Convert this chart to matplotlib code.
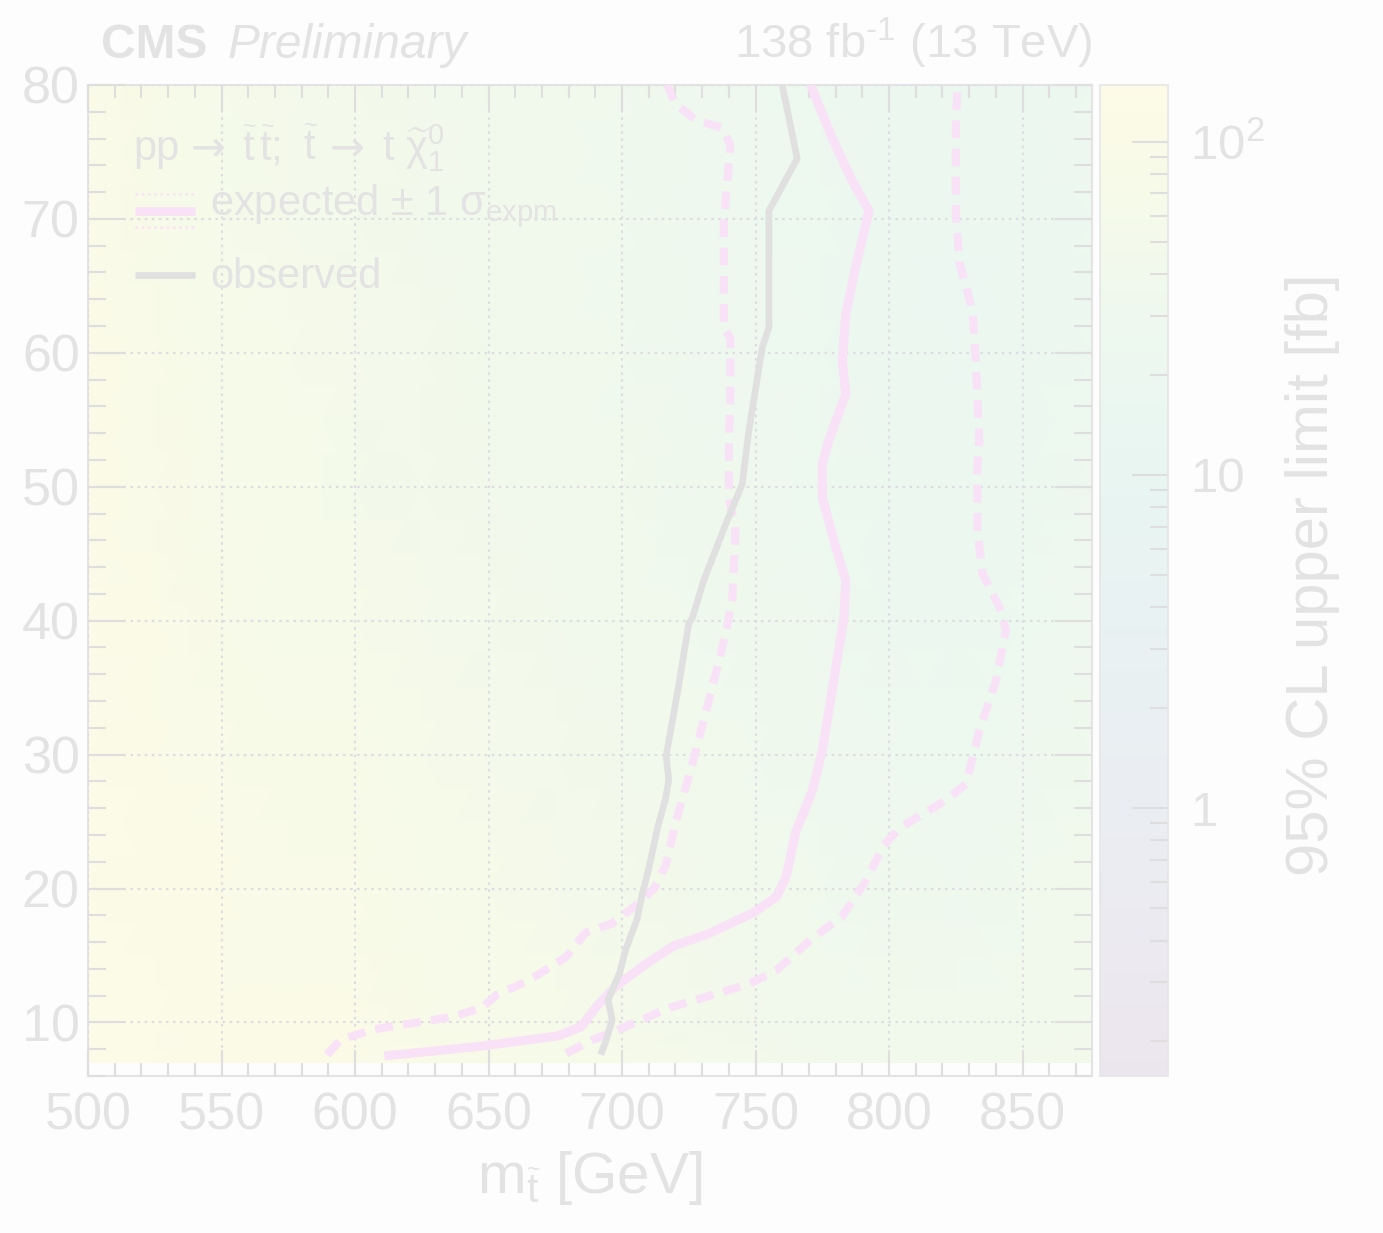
import numpy as np
import matplotlib
matplotlib.use("Agg")
import matplotlib.pyplot as plt
from matplotlib.colors import LogNorm, ListedColormap
from matplotlib.ticker import MultipleLocator, FixedLocator, LogLocator, FuncFormatter, NullFormatter
from matplotlib.lines import Line2D

# ---------------- data ----------------
# grid of the 95% CL upper limit on the cross section [fb]
mass_stop = [500, 525, 550, 575, 600, 625, 650, 675, 700, 725, 750, 775, 800, 825, 850, 876]
mass_lsp = [7, 10, 20, 30, 40, 50, 60, 70, 80]
limit_fb = [
    [140, 130, 115, 105, 100, 90, 80, 70, 60, 55, 50, 45, 42, 42, 45, 50],   # 7
    [140, 130, 110, 100, 100, 85, 75, 65, 55, 50, 45, 40, 38, 38, 40, 45],   # 10
    [140, 120, 100, 90, 90, 75, 65, 55, 50, 45, 40, 35, 32, 30, 35, 40],     # 20
    [130, 110, 90, 80, 80, 65, 55, 50, 45, 40, 36, 30, 28, 25, 30, 35],      # 30
    [130, 100, 85, 70, 65, 55, 50, 45, 40, 35, 32, 28, 22, 22, 25, 30],      # 40
    [120, 95, 75, 65, 58, 50, 45, 40, 38, 32, 30, 26, 22, 20, 22, 28],       # 50
    [120, 90, 70, 60, 55, 48, 42, 38, 35, 30, 28, 25, 20, 18, 20, 25],       # 60
    [110, 80, 60, 55, 50, 45, 40, 38, 35, 30, 28, 25, 20, 18, 20, 25],       # 70
    [110, 80, 60, 55, 50, 45, 40, 38, 36, 30, 28, 25, 22, 20, 22, 25],       # 80
]

# exclusion contours (stop mass, LSP mass)
obs_x = [692.0, 694.1, 696.3, 694.8, 699.1, 701.3, 705.6, 707.7, 709.9, 713.5, 716.3,
         717.5, 716.5, 721.0, 725.0, 726.3, 730.6, 738.8, 745.0, 747.5, 752.5, 755.0,
         755.0, 765.6, 760.0]
obs_y = [7.6, 8.7, 10.2, 11.7, 13.7, 15.4, 17.7, 19.7, 21.4, 24.7, 26.7,
         28.1, 29.9, 34.9, 39.8, 40.2, 43.0, 47.2, 50.2, 54.2, 60.4, 61.9,
         70.6, 74.5, 80.0]

exp_x = [611.0, 646.1, 676.2, 684.8, 690.5, 697.7, 709.2, 719.2, 732.1, 749.3, 757.9,
         761.5, 765.0, 771.3, 775.0, 781.3, 783.1, 783.8, 780.0, 775.0, 775.0, 777.5,
         783.8, 782.5, 783.8, 787.5, 792.5, 786.3, 778.8, 770.6]
exp_y = [7.5, 8.2, 9.0, 9.7, 11.2, 12.7, 14.4, 15.7, 16.6, 18.2, 19.4,
         20.9, 24.2, 27.3, 30.3, 38.0, 40.2, 43.0, 45.5, 49.2, 51.7, 53.5,
         56.9, 59.4, 62.9, 66.4, 70.6, 72.8, 76.0, 80.0]

exp_m1_x = [589.5, 594.6, 607.4, 636.1, 647.6, 653.3, 664.8, 679.1, 686.3, 696.3, 704.9,
            712.0, 716.3, 720.6, 726.3, 733.8, 738.8, 741.3, 742.5, 740.0, 740.0, 740.6,
            740.6, 738.1, 738.1, 740.6, 737.5, 727.5, 720.0, 716.9]
exp_m1_y = [7.6, 8.7, 9.5, 10.4, 11.1, 12.1, 13.1, 14.9, 16.7, 17.4, 18.7,
            20.0, 21.7, 25.3, 29.3, 35.0, 39.0, 41.7, 46.7, 49.2, 53.4, 56.9,
            61.1, 61.9, 69.8, 75.5, 76.8, 77.4, 78.6, 80.0]

exp_p1_x = [679.1, 689.1, 699.1, 717.8, 736.4, 747.9, 757.9, 770.8, 782.3, 790.8, 798.0,
            803.8, 821.3, 828.8, 833.8, 840.0, 843.8, 841.3, 835.0, 833.1, 833.1, 833.8,
            832.5, 831.3, 826.3, 825.0, 825.0, 825.6]
exp_p1_y = [7.7, 8.7, 9.5, 11.1, 12.2, 12.9, 13.9, 16.2, 17.9, 20.4, 23.2,
            24.5, 26.6, 27.8, 31.8, 35.5, 39.3, 41.0, 43.5, 46.7, 51.7, 53.4,
            59.4, 63.1, 66.8, 70.6, 76.8, 80.0]

x_ticks = [500, 550, 600, 650, 700, 750, 800, 850]
y_ticks = [10, 20, 30, 40, 50, 60, 70, 80]
z_ticks = [1, 10, 100]

# ---------------- style ----------------
W, H = 1383, 1233
FONT = "Liberation Sans"
plt.rcParams["font.family"] = [FONT, "DejaVu Sans"]
plt.rcParams["mathtext.fontset"] = "custom"
plt.rcParams["mathtext.rm"] = FONT
plt.rcParams["mathtext.sf"] = FONT
plt.rcParams["mathtext.it"] = FONT + ":italic"
plt.rcParams["mathtext.bf"] = FONT + ":bold"


def washed(rgb):
    """Washed-out version of a colour (very low contrast palette)."""
    rgb = np.asarray(rgb, dtype=float)
    return 0.898 + 0.094 * rgb


TXT = "#e3e3e3"
TICK = "#dedede"
GRID = "#dcdce2"
PINK = "#f9e1f7"
GREY = "#e0e0e0"
BG = "#fdfdfd"

vir = plt.get_cmap("viridis")(np.linspace(0, 1, 256))[:, :3]
cmap = ListedColormap(np.clip(washed(vir), 0, 1))
norm = LogNorm(vmin=0.157, vmax=148)

fig = plt.figure(figsize=(W / 100, H / 100), dpi=100, facecolor=BG)


def fx(px):
    return px / W


def fy(py):
    return 1 - py / H


ax_l, ax_r, ax_t, ax_b = 88, 1092, 85, 1076
ax = fig.add_axes([fx(ax_l), fy(ax_b), fx(ax_r - ax_l), (ax_b - ax_t) / H])
ax.set_facecolor(BG)
cax = fig.add_axes([fx(1100), fy(ax_b), fx(68), (ax_b - ax_t) / H])

# heat map of the limit
X, Y = np.meshgrid(mass_stop, mass_lsp)
Z = np.array(limit_fb, dtype=float)
mesh = ax.pcolormesh(X, Y, Z, shading="gouraud", cmap=cmap, norm=norm, zorder=1)

ax.set_xlim(500, 876)
ax.set_ylim(6, 80)

# grid and ticks
ax.set_axisbelow(False)
ax.grid(True, which="major", color=GRID, linestyle=(0, (1.2, 2.2)), linewidth=1.5)
ax.xaxis.set_major_locator(FixedLocator(x_ticks))
ax.yaxis.set_major_locator(FixedLocator(y_ticks))
ax.xaxis.set_minor_locator(MultipleLocator(10))
ax.yaxis.set_minor_locator(MultipleLocator(2))
ax.tick_params(axis="both", which="both", direction="in", top=True, right=True,
               color=TICK, width=1.5, labelcolor=TXT, labelsize=37.5)
ax.tick_params(axis="x", which="major", length=19, pad=11)
ax.tick_params(axis="x", which="minor", length=9.5)
ax.tick_params(axis="y", which="major", length=27, pad=6)
ax.tick_params(axis="y", which="minor", length=13)
for sp in ax.spines.values():
    sp.set_color("#e4e4e4")
    sp.set_linewidth(1.5)

# contours
ax.plot(exp_m1_x, exp_m1_y, color=PINK, lw=5.8, linestyle=(0, (2.2, 1.3)),
        dash_capstyle="butt", zorder=4)
ax.plot(exp_p1_x, exp_p1_y, color=PINK, lw=5.8, linestyle=(0, (2.2, 1.3)),
        dash_capstyle="butt", zorder=4)
ax.plot(exp_x, exp_y, color=PINK, lw=6.5, solid_capstyle="butt", zorder=5)
ax.plot(obs_x, obs_y, color=GREY, lw=4.8, solid_capstyle="butt", zorder=6)

# x axis title
ax.set_xlabel(r"m$_{\widetilde{\mathrm{t}}}$ [GeV]", fontsize=42, color=TXT, labelpad=6)

# colour bar
cb = fig.colorbar(mesh, cax=cax)
cb.outline.set_edgecolor("#e6e6e6")
cb.outline.set_linewidth(1.2)
cax.yaxis.set_major_locator(FixedLocator(z_ticks))
cax.yaxis.set_minor_locator(LogLocator(base=10, subs=np.arange(2, 10)))
cax.yaxis.set_minor_formatter(NullFormatter())
cax.yaxis.set_major_formatter(FuncFormatter(
    lambda v, p: {1: "1", 10: "10", 100: r"10$^{2}$"}.get(int(round(v)), "")))
cax.yaxis.set_ticks_position("right")
cax.tick_params(axis="y", which="both", direction="in", color=TICK, width=1.5,
                labelcolor=TXT, labelsize=35.5, pad=16, left=False, right=True)
cax.tick_params(axis="y", which="major", length=26)
cax.tick_params(axis="y", which="minor", length=13)
fig.text(fx(1312), fy(575), "95% CL upper limit [fb]", rotation=90, fontsize=43,
         color=TXT, ha="center", va="center")

# header
fig.text(fx(101), fy(58), "CMS", fontsize=34.5, fontweight="bold", color=TXT,
         ha="left", va="baseline")
fig.text(fx(228), fy(58), "Preliminary", fontsize=34.5, style="italic", color=TXT,
         ha="left", va="baseline")
fig.text(fx(1092), fy(58), "138 fb$^{\u2010\\mathrm{1}}$ (13 TeV)", fontsize=34, color=TXT,
         ha="right", va="baseline")

# legend: process line, built from pieces so the arrows use a font with long arrows
process_parts = [
    (133, "pp", None),
    (191, "\u2192", "DejaVu Sans"),
    (242, r"$\widetilde{\mathrm{t}}\,\widetilde{\mathrm{t}}$;", None),
    (303, r"$\widetilde{\mathrm{t}}$", None),
    (330, "\u2192", "DejaVu Sans"),
    (382, r"t $\widetilde{\mathrm{\chi}}^{0}_{1}$", None),
]
for xpos, txt, fam in process_parts:
    kw = {"family": [fam]} if fam else {}
    fig.text(fx(xpos), fy(160), txt, fontsize=30, color=TXT, ha="left",
             va="baseline", **kw)

for yy in (194, 227):
    fig.add_artist(Line2D([fx(135), fx(195)], [fy(yy), fy(yy)], transform=fig.transFigure,
                          color=PINK, lw=1.8, linestyle=(0, (1, 1.5))))
fig.add_artist(Line2D([fx(135), fx(195)], [fy(211), fy(211)], transform=fig.transFigure,
                      color=PINK, lw=6.2, solid_capstyle="butt"))
fig.text(fx(210), fy(215), r"expected $\pm$ 1 $\mathrm{\sigma}_{\mathrm{expm}}$",
         fontsize=30, color=TXT, ha="left", va="baseline")
fig.add_artist(Line2D([fx(135), fx(195)], [fy(275), fy(275)], transform=fig.transFigure,
                      color=GREY, lw=4.8, solid_capstyle="butt"))
fig.text(fx(210), fy(288), "observed", fontsize=30, color=TXT, ha="left", va="baseline")

fig.savefig("out.png", dpi=100, facecolor=BG)
